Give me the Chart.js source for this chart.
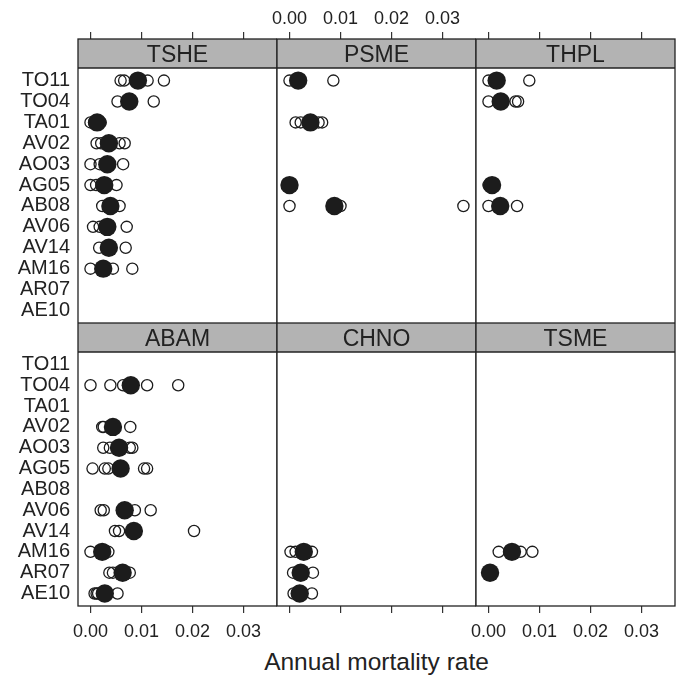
<!DOCTYPE html>
<html><head><meta charset="utf-8">
<script src="https://cdn.jsdelivr.net/npm/chart.js@4/dist/chart.umd.min.js"></script>
<style>
html,body{margin:0;padding:0;background:#fff;}
#wrap{position:relative;width:677px;height:677px;overflow:hidden;font-family:"Liberation Sans",Arial,Helvetica,sans-serif;}
canvas{position:absolute;}
.strip{position:absolute;height:29px;line-height:30px;text-align:center;color:#222;font-size:23px;}
#xtitle{position:absolute;left:77px;width:599px;top:649px;line-height:25px;text-align:center;font-size:24.5px;color:#222;}
</style></head><body><div id="wrap"><div id="xtitle">Annual mortality rate</div></div>
<script>
// ---------- data ----------
const rowLabels = ['TO11','TO04','TA01','AV02','AO03','AG05','AB08','AV06','AV14','AM16','AR07','AE10'];
const panelNames = ['TSHE','PSME','THPL','ABAM','CHNO','TSME'];
const xTicks = [0, 0.01, 0.02, 0.03];
const xTickLabels = ['0.00','0.01','0.02','0.03'];

const tsheMean = [0.0093,0.0076,0.0013,0.0036,0.0033,0.0027,0.0039,0.0033,0.0036,0.0025,null,null];
const tshePlots = [[0.0059,0.0066,0.0112,0.0144],[0.0053,0.0124],[0.0,0.0007,0.0020],[0.0012,0.0021,0.0057,0.0067],[0.0,0.0018,0.0064],[0.0,0.0011,0.0051],[0.0023,0.0057],[0.0005,0.0018,0.0071],[0.0017,0.0069],[0.0,0.0044,0.0082],[],[]];

const psmeMean = [0.0017,null,0.0041,null,null,0.0,0.0088,null,null,null,null,null];
const psmePlots = [[0.0,0.0086],[],[0.0012,0.0022,0.0057,0.0064],[],[],[],[0.0,0.0100,0.0341],[],[],[],[],[]];

const thplMean = [0.0016,0.0024,null,null,null,0.0007,0.0023,null,null,null,null,null];
const thplPlots = [[0.0,0.0080],[0.0,0.0053,0.0058],[],[],[],[0.0],[0.0,0.0056],[],[],[],[],[]];

const abamMean = [null,0.0079,null,0.0044,0.0056,0.0059,null,0.0067,0.0085,0.0023,0.0063,0.0028];
const abamPlots = [[],[0.0,0.0039,0.0064,0.0111,0.0172],[],[0.0023,0.0026,0.0078],[0.0025,0.0038,0.0077,0.0082],[0.0004,0.0028,0.0035,0.0105,0.0111],[],[0.0020,0.0026,0.0087,0.0118],[0.0048,0.0056,0.0203],[0.0,0.0035],[0.0037,0.0044,0.0077],[0.0008,0.0012,0.0015,0.0053]];

const chnoMean = [null,null,null,null,null,null,null,null,null,0.0028,0.0022,0.0020];
const chnoPlots = [[],[],[],[],[],[],[],[],[],[0.0002,0.0012,0.0044],[0.0007,0.0046],[0.0008,0.0044]];

const tsmeMean = [null,null,null,null,null,null,null,null,null,0.0046,0.0003,null];
const tsmePlots = [[],[],[],[],[],[],[],[],[],[0.0020,0.0063,0.0086],[],[]];

const panelMeans = [tsheMean, psmeMean, thplMean, abamMean, chnoMean, tsmeMean];
const panelPlots = [tshePlots, psmePlots, thplPlots, abamPlots, chnoPlots, tsmePlots];

// ---------- layout ----------
const FONT = '"Liberation Sans", Arial, Helvetica, sans-serif';
const COLX = [78, 277, 476], COLW = 199, YAXW = 78, SIDE = 20;
const STRIP_H = 29;
const ROWCFG = [
  {top:0,   height:323, pos:'top',    axisH:39, labelCols:[1], pad:2},
  {top:323, height:354, pos:'bottom', axisH:71, labelCols:[0,2], pad:8}
];
const XMIN = -0.00245, XMAX = 0.03657;
const YMIN = -0.99, YMAX = 12.6;

const framePlugin = {
  id:'frame',
  beforeDatasetsDraw(chart){
    const a = chart.chartArea, c = chart.ctx;
    c.save();
    c.fillStyle = '#b3b3b3';
    c.fillRect(a.left, a.top, a.right-a.left, STRIP_H);
    c.restore();
  },
  afterDraw(chart){
    const a = chart.chartArea, c = chart.ctx;
    c.save();
    c.strokeStyle = '#222'; c.lineWidth = 1.3;
    c.strokeRect(a.left, a.top, a.right-a.left, a.bottom-a.top);
    c.beginPath(); c.moveTo(a.left, a.top+STRIP_H); c.lineTo(a.right, a.top+STRIP_H); c.stroke();
    c.restore();
  }
};

const wrap = document.getElementById('wrap');
panelNames.forEach((name, p) => {
  const r = Math.floor(p/3), col = p%3, rc = ROWCFG[r];
  const left = col===0 ? 0 : COLX[col]-SIDE;
  const padL = col===0 ? 0 : SIDE;
  const padR = col===2 ? 1 : 0;
  const width = (col===0 ? COLX[0] : SIDE) + COLW + padR;
  const cv = document.createElement('canvas');
  cv.width = width; cv.height = rc.height;
  cv.style.left = left+'px'; cv.style.top = rc.top+'px';
  cv.style.width = width+'px'; cv.style.height = rc.height+'px';
  wrap.appendChild(cv);

  const strip = document.createElement('div');
  strip.className = 'strip';
  strip.textContent = name;
  strip.style.left = COLX[col]+'px';
  strip.style.width = COLW+'px';
  strip.style.top = (rc.top + (r===0 ? rc.axisH : 0))+'px';
  wrap.appendChild(strip);

  const means = panelMeans[p], plots = panelPlots[p];
  const meanData = [], plotData = [];
  rowLabels.forEach((lab, i) => {
    if (means[i] !== null) meanData.push({x: means[i], y: i+1});
    plots[i].forEach(v => plotData.push({x: v, y: i+1}));
  });

  new Chart(cv, {
    type:'scatter',
    data:{datasets:[
      {data: meanData, pointRadius:9.2, pointBackgroundColor:'#1c1c1c', pointBorderColor:'#1c1c1c', pointBorderWidth:0, showLine:false},
      {data: plotData, pointRadius:5.6, pointBackgroundColor:'rgba(255,255,255,0)', pointBorderColor:'#1c1c1c', pointBorderWidth:1.3, showLine:false}
    ]},
    options:{
      responsive:false, animation:false, devicePixelRatio:1, events:[],
      layout:{autoPadding:false, padding:{left:padL, right:padR, top:0, bottom:0}},
      plugins:{legend:{display:false}, tooltip:{enabled:false}},
      scales:{
        x:{
          type:'linear', position: rc.pos, min:XMIN, max:XMAX,
          afterBuildTicks: s => { s.ticks = xTicks.map(v => ({value:v})); },
          afterFit: s => { s.height = rc.axisH; s.paddingLeft = 0; s.paddingRight = 0; },
          grid:{drawOnChartArea:false, drawTicks:true, tickLength:7, color:'#333', lineWidth:1.2},
          border:{display:false},
          ticks:{display: rc.labelCols.includes(col), autoSkip:false, maxRotation:0, padding: rc.pad,
                 color:'#222', font:{size:18, family:FONT},
                 callback: v => xTickLabels[xTicks.indexOf(v)]}
        },
        y:{
          type:'linear', display: col===0, reverse:true, min:YMIN, max:YMAX,
          afterBuildTicks: s => { s.ticks = rowLabels.map((l,i) => ({value:i+1})); },
          afterFit: s => { s.width = col===0 ? YAXW : 0; s.paddingTop = 0; s.paddingBottom = 0; },
          grid:{drawOnChartArea:false, drawTicks:false},
          border:{display:false},
          ticks:{autoSkip:false, padding:8, color:'#222', font:{size:20, family:FONT},
                 callback: v => rowLabels[v-1]}
        }
      }
    },
    plugins:[framePlugin]
  });
});
</script></body></html>
